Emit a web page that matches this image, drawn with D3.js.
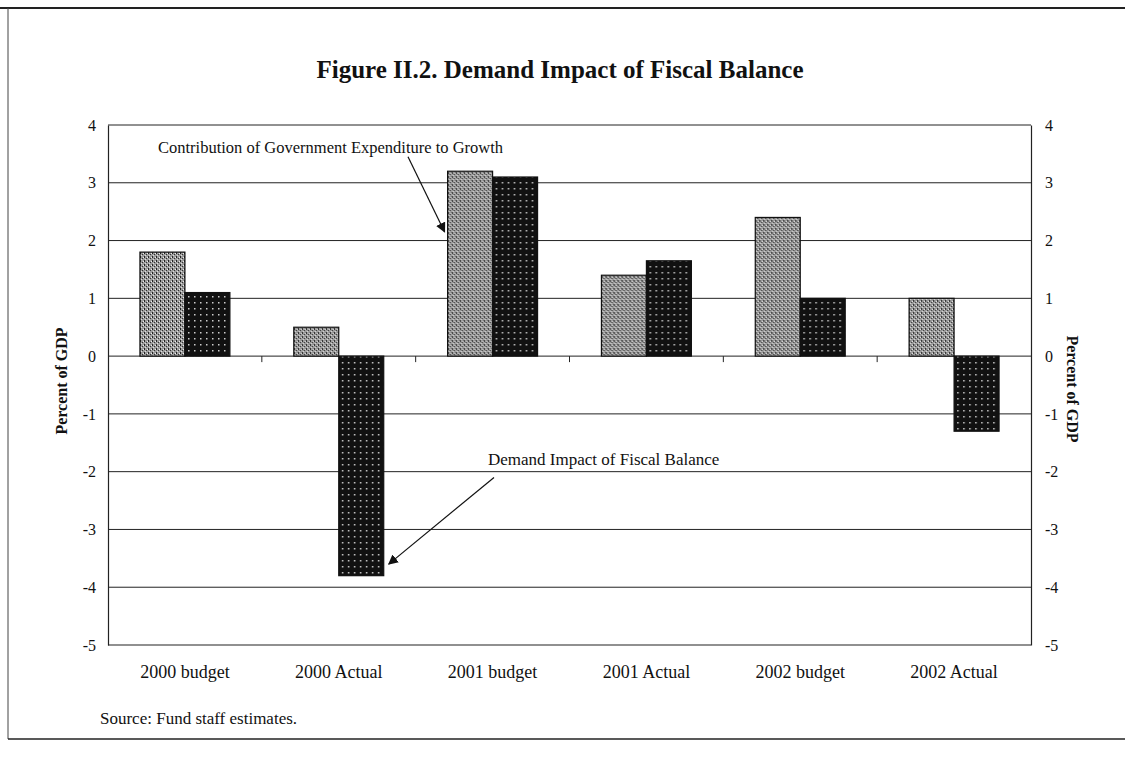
<!DOCTYPE html>
<html>
<head>
<meta charset="utf-8">
<script src="https://cdn.jsdelivr.net/npm/d3@7"></script>
<style>
  body { margin: 0; background: #fff; }
  svg { display: block; }
  text { font-family: "Liberation Serif", "DejaVu Serif", serif; fill: #111; }
</style>
</head>
<body>
<div id="vis"></div>
<script>
const categories = ["2000 budget", "2000 Actual", "2001 budget", "2001 Actual", "2002 budget", "2002 Actual"];
const expenditure = [1.8, 0.5, 3.2, 1.4, 2.4, 1.0];   // Contribution of Government Expenditure to Growth
const balance = [1.1, -3.8, 3.1, 1.65, 1.0, -1.3];     // Demand Impact of Fiscal Balance
const yTicks = [4, 3, 2, 1, 0, -1, -2, -3, -4, -5];

const FRAME_WIDTH = 1125;
const FRAME_HEIGHT = 757;
const MARGINS = { left: 108, right: 94, top: 125, bottom: 112 };

const svg = d3.select("#vis")
    .append("svg")
    .attr("width", FRAME_WIDTH)
    .attr("height", FRAME_HEIGHT);

// patterns for the scanned stipple fills
const defs = svg.append("defs");
const grey = defs.append("pattern")
    .attr("id", "greyFill")
    .attr("width", 4).attr("height", 4)
    .attr("patternUnits", "userSpaceOnUse");
grey.append("rect").attr("width", 4).attr("height", 4).attr("fill", "#9c9c9c");
grey.append("rect").attr("x", 0).attr("y", 0).attr("width", 1).attr("height", 2).attr("fill", "#222");
grey.append("rect").attr("x", 2).attr("y", 2).attr("width", 1).attr("height", 1).attr("fill", "#333");
grey.append("rect").attr("x", 3).attr("y", 1).attr("width", 1).attr("height", 1).attr("fill", "#eee");
grey.append("rect").attr("x", 1).attr("y", 3).attr("width", 1).attr("height", 1).attr("fill", "#ddd");

const dark = defs.append("pattern")
    .attr("id", "darkFill")
    .attr("width", 6).attr("height", 6)
    .attr("patternUnits", "userSpaceOnUse");
dark.append("rect").attr("width", 6).attr("height", 6).attr("fill", "#111");
dark.append("rect").attr("x", 2).attr("y", 2).attr("width", 1.5).attr("height", 1.5).attr("fill", "#ccc");

defs.append("marker")
    .attr("id", "arrow")
    .attr("viewBox", "0 0 10 10")
    .attr("refX", 9).attr("refY", 5)
    .attr("markerWidth", 10).attr("markerHeight", 10)
    .attr("markerUnits", "userSpaceOnUse")
    .attr("orient", "auto")
  .append("path")
    .attr("d", "M0,0 L10,5 L0,10 z")
    .attr("fill", "#111");

// outer frame of the figure
svg.append("line").attr("x1", 0).attr("x2", FRAME_WIDTH).attr("y1", 8).attr("y2", 8)
    .attr("stroke", "#222").attr("stroke-width", 2);
svg.append("line").attr("x1", 8).attr("x2", 8).attr("y1", 8).attr("y2", 739)
    .attr("stroke", "#444").attr("stroke-width", 1);
svg.append("line").attr("x1", 8).attr("x2", FRAME_WIDTH).attr("y1", 739).attr("y2", 739)
    .attr("stroke", "#222").attr("stroke-width", 1.5);

svg.append("text")
    .attr("x", 560).attr("y", 78)
    .attr("text-anchor", "middle")
    .attr("font-size", "25px")
    .attr("font-weight", "bold")
    .text("Figure II.2. Demand Impact of Fiscal Balance");

const X_SCALE = d3.scaleBand()
    .domain(categories)
    .range([MARGINS.left, FRAME_WIDTH - MARGINS.right]);

const SUB_SCALE = d3.scaleBand()
    .domain(["exp", "bal"])
    .range([0, X_SCALE.bandwidth()])
    .paddingInner(0)
    .paddingOuter(0.71);

const Y_SCALE = d3.scaleLinear()
    .domain([-5, 4])
    .range([FRAME_HEIGHT - MARGINS.bottom, MARGINS.top]);

const left = MARGINS.left, right = FRAME_WIDTH - MARGINS.right;

// gridlines
svg.append("g")
    .selectAll("line")
    .data(yTicks.filter(d => d > -5))
    .enter()
    .append("line")
    .attr("x1", left).attr("x2", right)
    .attr("y1", d => Y_SCALE(d)).attr("y2", d => Y_SCALE(d))
    .attr("stroke", "#222").attr("stroke-width", 1);

// bars
const groups = svg.append("g")
    .selectAll("g")
    .data(categories)
    .enter()
    .append("g")
    .attr("transform", d => "translate(" + X_SCALE(d) + ",0)");

groups.append("rect")
    .attr("x", SUB_SCALE("exp"))
    .attr("width", SUB_SCALE.bandwidth())
    .attr("y", (d, i) => Y_SCALE(Math.max(0, expenditure[i])))
    .attr("height", (d, i) => Math.abs(Y_SCALE(expenditure[i]) - Y_SCALE(0)))
    .attr("fill", "url(#greyFill)")
    .attr("stroke", "#111").attr("stroke-width", 1.2);

groups.append("rect")
    .attr("x", SUB_SCALE("bal"))
    .attr("width", SUB_SCALE.bandwidth())
    .attr("y", (d, i) => Y_SCALE(Math.max(0, balance[i])))
    .attr("height", (d, i) => Math.abs(Y_SCALE(balance[i]) - Y_SCALE(0)))
    .attr("fill", "url(#darkFill)")
    .attr("stroke", "#111").attr("stroke-width", 1.2);

// category axis on the zero line, ticks between categories
svg.append("g")
    .selectAll("line")
    .data(categories.slice(1))
    .enter()
    .append("line")
    .attr("x1", d => X_SCALE(d)).attr("x2", d => X_SCALE(d))
    .attr("y1", Y_SCALE(0)).attr("y2", Y_SCALE(0) + 6)
    .attr("stroke", "#222");

svg.append("g")
    .selectAll("text")
    .data(categories)
    .enter()
    .append("text")
    .attr("x", d => X_SCALE(d) + X_SCALE.bandwidth() / 2)
    .attr("y", Y_SCALE(-5) + 33)
    .attr("text-anchor", "middle")
    .attr("font-size", "18px")
    .text(d => d);

// bottom edge of plot
svg.append("line")
    .attr("x1", left).attr("x2", right)
    .attr("y1", Y_SCALE(-5)).attr("y2", Y_SCALE(-5))
    .attr("stroke", "#222").attr("stroke-width", 1.2);

// left and right value axes
const leftAxis = svg.append("g")
    .attr("transform", "translate(" + left + ",0)")
    .call(d3.axisLeft(Y_SCALE).tickValues(yTicks).tickSize(0).tickPadding(12).tickFormat(d => String(d)));
const rightAxis = svg.append("g")
    .attr("transform", "translate(" + right + ",0)")
    .call(d3.axisRight(Y_SCALE).tickValues(yTicks).tickSize(0).tickPadding(14).tickFormat(d => String(d)));

[leftAxis, rightAxis].forEach(ax => {
    ax.select(".domain").attr("stroke", "#222").attr("stroke-width", 1.2);
    ax.selectAll(".tick text")
        .attr("font-family", "Liberation Serif, serif")
        .attr("font-size", "16px")
        .attr("fill", "#111");
});

const midY = (Y_SCALE(4) + Y_SCALE(-5)) / 2;
svg.append("text")
    .attr("transform", "translate(67," + (midY - 4) + ") rotate(-90)")
    .attr("text-anchor", "middle")
    .attr("font-size", "16px")
    .attr("font-weight", "bold")
    .text("Percent of GDP");
svg.append("text")
    .attr("transform", "translate(1067," + (midY + 4) + ") rotate(90)")
    .attr("text-anchor", "middle")
    .attr("font-size", "16px")
    .attr("font-weight", "bold")
    .text("Percent of GDP");

// annotations
const expBarLeft = X_SCALE("2001 budget") + SUB_SCALE("exp");
svg.append("text")
    .attr("x", 158).attr("y", Y_SCALE(3.6) + 5)
    .attr("font-size", "16.5px")
    .text("Contribution of Government Expenditure to Growth");
svg.append("line")
    .attr("x1", 408).attr("y1", Y_SCALE(3.45))
    .attr("x2", expBarLeft - 3).attr("y2", Y_SCALE(2.15))
    .attr("stroke", "#111").attr("stroke-width", 1.2)
    .attr("marker-end", "url(#arrow)");

const balBarRight = X_SCALE("2000 Actual") + SUB_SCALE("bal") + SUB_SCALE.bandwidth();
svg.append("text")
    .attr("x", 488).attr("y", Y_SCALE(-1.88))
    .attr("font-size", "17px")
    .text("Demand Impact of Fiscal Balance");
svg.append("line")
    .attr("x1", 494).attr("y1", Y_SCALE(-2.1))
    .attr("x2", balBarRight + 5).attr("y2", Y_SCALE(-3.6))
    .attr("stroke", "#111").attr("stroke-width", 1.2)
    .attr("marker-end", "url(#arrow)");

svg.append("text")
    .attr("x", 100).attr("y", 724)
    .attr("font-size", "17px")
    .text("Source: Fund staff estimates.");
</script>
</body>
</html>
